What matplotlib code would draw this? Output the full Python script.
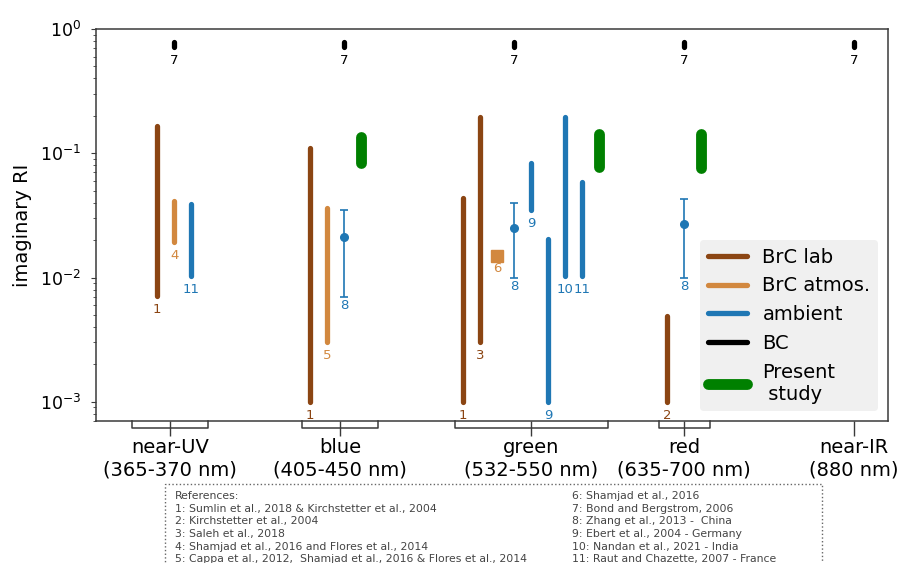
import matplotlib
matplotlib.use('Agg')
import matplotlib.pyplot as plt
from matplotlib.lines import Line2D
from matplotlib.patches import Rectangle
import matplotlib.transforms as mtransforms

# ---------------- data ----------------
group_labels = ['near-UV\n(365-370 nm)', 'blue\n(405-450 nm)', 'green\n(532-550 nm)',
                'red\n(635-700 nm)', 'near-IR\n(880 nm)']
group_tick_pos = [0.975, 1.975, 3.1, 4.0, 5.0]
group_brackets = [(0.75, 1.2), (1.75, 2.2), (2.65, 3.55), (3.85, 4.15)]

brc_lab_x = [0.9, 1.8, 2.7, 2.8, 3.9]
brc_lab_lo = [0.0071, 0.001, 0.001, 0.003, 0.001]
brc_lab_hi = [0.165, 0.11, 0.044, 0.196, 0.0049]
brc_lab_ref = ['1', '1', '1', '3', '2']

brc_atm_x = [1.0, 1.9]
brc_atm_lo = [0.0193, 0.003]
brc_atm_hi = [0.041, 0.036]
brc_atm_ref = ['4', '5']

brc_atm_pt_x = [2.9]
brc_atm_pt_y = [0.015]
brc_atm_pt_ref = ['6']

amb_x = [1.1, 3.1, 3.2, 3.3, 3.4]
amb_lo = [0.0103, 0.0348, 0.001, 0.0103, 0.0103]
amb_hi = [0.039, 0.084, 0.0203, 0.196, 0.059]
amb_ref = ['11', '9', '9', '10', '11']

amb_err_x = [2.0, 3.0, 4.0]
amb_err_y = [0.021, 0.025, 0.027]
amb_err_lo = [0.007, 0.010, 0.010]
amb_err_hi = [0.035, 0.040, 0.043]
amb_err_ref = ['8', '8', '8']

bc_x = [1.0, 2.0, 3.0, 4.0, 5.0]
bc_lo = [0.72, 0.72, 0.72, 0.72, 0.72]
bc_hi = [0.79, 0.79, 0.79, 0.79, 0.79]
bc_ref = ['7', '7', '7', '7', '7']

present_x = [2.1, 3.5, 4.1]
present_lo = [0.083, 0.078, 0.076]
present_hi = [0.134, 0.144, 0.144]

legend_labels = ['BrC lab', 'BrC atmos.', 'ambient', 'BC', 'Present\n study']

references_left = ("References:\n"
                   "1: Sumlin et al., 2018 & Kirchstetter et al., 2004\n"
                   "2: Kirchstetter et al., 2004\n"
                   "3: Saleh et al., 2018\n"
                   "4: Shamjad et al., 2016 and Flores et al., 2014\n"
                   "5: Cappa et al., 2012,  Shamjad et al., 2016 & Flores et al., 2014")
references_right = ("6: Shamjad et al., 2016\n"
                    "7: Bond and Bergstrom, 2006\n"
                    "8: Zhang et al., 2013 -  China\n"
                    "9: Ebert et al., 2004 - Germany\n"
                    "10: Nandan et al., 2021 - India\n"
                    "11: Raut and Chazette, 2007 - France")

# ---------------- style ----------------
c_lab = '#8b4513'
c_atm = '#d2883f'
c_amb = '#1f77b4'
c_bc = 'black'
c_pre = '#008000'
spine_c = '#3a3a3a'
bar_lw = 3.8
pre_lw = 7.8
ref_fs = 9.5

fig = plt.figure(figsize=(9.03, 5.63), dpi=100)
ax = fig.add_axes([96/903, 1-421/563, (888-96)/903, (421-29)/563])
ax.set_yscale('log')
ax.set_ylim(7e-4, 1)
ax.set_xlim(0.54, 5.2)


def bar(x, lo, hi, color, lw, ref=None):
    ax.plot([x, x], [lo, hi], color=color, lw=lw, solid_capstyle='round')
    if ref is not None:
        ax.annotate(ref, (x, lo), xytext=(0, -5), textcoords='offset points',
                    ha='center', va='top', fontsize=ref_fs, color=color)


for x, lo, hi, r in zip(brc_lab_x, brc_lab_lo, brc_lab_hi, brc_lab_ref):
    bar(x, lo, hi, c_lab, bar_lw, r)
for x, lo, hi, r in zip(brc_atm_x, brc_atm_lo, brc_atm_hi, brc_atm_ref):
    bar(x, lo, hi, c_atm, bar_lw, r)
for x, lo, hi, r in zip(amb_x, amb_lo, amb_hi, amb_ref):
    bar(x, lo, hi, c_amb, bar_lw, r)
for x, lo, hi, r in zip(bc_x, bc_lo, bc_hi, bc_ref):
    bar(x, lo, hi, c_bc, bar_lw, r)
for x, lo, hi in zip(present_x, present_lo, present_hi):
    bar(x, lo, hi, c_pre, pre_lw)

ax.plot(brc_atm_pt_x, brc_atm_pt_y, 's', color=c_atm, ms=8)
for x, y, r in zip(brc_atm_pt_x, brc_atm_pt_y, brc_atm_pt_ref):
    ax.annotate(r, (x, y), xytext=(0, -4.3), textcoords='offset points',
                ha='center', va='top', fontsize=ref_fs, color=c_atm)

for x, y, lo, hi, r in zip(amb_err_x, amb_err_y, amb_err_lo, amb_err_hi, amb_err_ref):
    ax.errorbar([x], [y], yerr=[[y - lo], [hi - y]], fmt='o', color=c_amb,
                ms=5.5, elinewidth=1.2, capsize=2.8, capthick=1.2)
    ax.annotate(r, (x, lo), xytext=(0, -1.6), textcoords='offset points',
                ha='center', va='top', fontsize=ref_fs, color=c_amb)

# axes styling
for s in ax.spines.values():
    s.set_color(spine_c)
    s.set_linewidth(1.1)
ax.set_xticks(group_tick_pos)
ax.set_xticklabels(group_labels)
ax.tick_params(axis='x', length=10.5, width=1, pad=2, labelsize=14, color=spine_c)
ax.tick_params(axis='y', which='both', labelsize=12.5, color=spine_c, pad=7)
ax.set_ylabel('imaginary RI', fontsize=14, labelpad=6)

# brackets under group ticks
btrans = mtransforms.blended_transform_factory(ax.transData, ax.transAxes)
by = -7/392
for a, b in group_brackets:
    ax.add_line(Line2D([a, a, b, b], [0, by, by, 0], transform=btrans,
                       color=spine_c, lw=1.1, clip_on=False))

# legend
handles = [Line2D([], [], color=c_lab, lw=bar_lw, solid_capstyle='round'),
           Line2D([], [], color=c_atm, lw=bar_lw, solid_capstyle='round'),
           Line2D([], [], color=c_amb, lw=bar_lw, solid_capstyle='round'),
           Line2D([], [], color=c_bc, lw=bar_lw, solid_capstyle='round'),
           Line2D([], [], color=c_pre, lw=pre_lw, solid_capstyle='round')]
leg = ax.legend(handles, legend_labels, loc='lower right', fontsize=14,
                facecolor='#f0f0f0', edgecolor='none', framealpha=1,
                handlelength=2.0)

# references box
rect = Rectangle((165/903, -0.1), (822-165)/903, 0.1 + 1 - 484/563,
                 transform=fig.transFigure, fill=False, ls=':',
                 edgecolor='#666666', lw=1, clip_on=False)
fig.add_artist(rect)
fig.text(175/903, 1-491/563, references_left, ha='left', va='top',
         fontsize=7.8, color='#444444', linespacing=1.33)
fig.text(572/903, 1-491/563, references_right, ha='left', va='top',
         fontsize=7.8, color='#444444', linespacing=1.33)

fig.savefig('out.png', dpi=100)
